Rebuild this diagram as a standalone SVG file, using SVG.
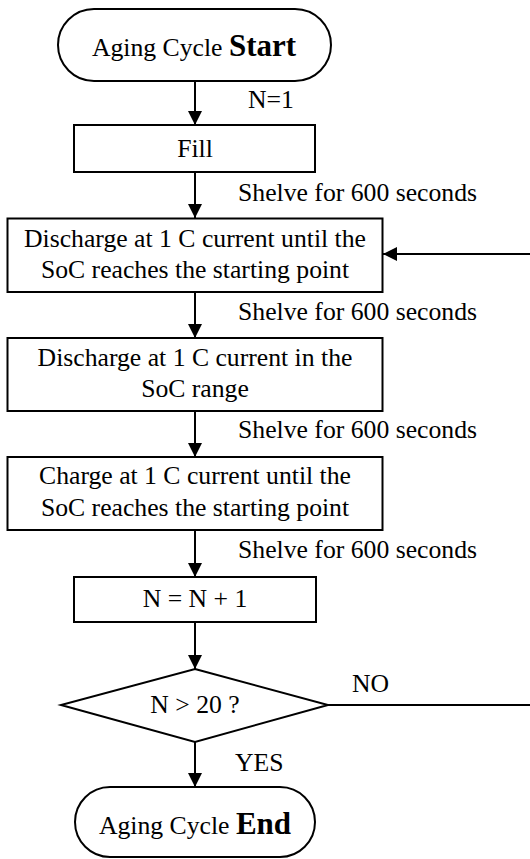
<svg xmlns="http://www.w3.org/2000/svg" width="530" height="859" viewBox="0 0 530 859">
<style>
.shape{fill:#fff;stroke:#000;stroke-width:2}
.t{font-family:"Liberation Serif","Times New Roman",serif;font-size:25.7px;fill:#000}
.c{text-anchor:middle}
.b{font-weight:bold;font-size:31px}
.ln{stroke:#000;stroke-width:2;fill:none}
</style>
<defs>
<marker id="ah" viewBox="0 0 14 14" refX="14" refY="7" markerWidth="14" markerHeight="14" markerUnits="userSpaceOnUse" orient="auto">
<path d="M0,0 L14,7 L0,14 Z" fill="#000"/>
</marker>
</defs>
<rect width="530" height="859" fill="#fff"/>
<g id="connectors">
<line class="ln" x1="195" y1="81" x2="195" y2="125" marker-end="url(#ah)"/>
<line class="ln" x1="195" y1="172" x2="195" y2="218" marker-end="url(#ah)"/>
<line class="ln" x1="195" y1="292" x2="195" y2="338" marker-end="url(#ah)"/>
<line class="ln" x1="195" y1="411" x2="195" y2="457" marker-end="url(#ah)"/>
<line class="ln" x1="195" y1="530" x2="195" y2="577" marker-end="url(#ah)"/>
<line class="ln" x1="195" y1="622" x2="195" y2="669" marker-end="url(#ah)"/>
<line class="ln" x1="195" y1="742" x2="195" y2="787" marker-end="url(#ah)"/>
<line class="ln" x1="328" y1="705" x2="530" y2="705"/>
<line class="ln" x1="530" y1="254" x2="383" y2="254" marker-end="url(#ah)"/>
<text class="t" x="248" y="108">N=1</text>
<text class="t" x="238" y="201">Shelve for 600 seconds</text>
<text class="t" x="238" y="320">Shelve for 600 seconds</text>
<text class="t" x="238" y="438">Shelve for 600 seconds</text>
<text class="t" x="238" y="558">Shelve for 600 seconds</text>
<text class="t" x="352" y="692">NO</text>
<text class="t" x="235" y="771">YES</text>
</g>
<g id="start">
<rect class="shape" x="58" y="9" width="273" height="72" rx="36"/>
<text class="t c" x="194" y="56">Aging Cycle <tspan class="b">Start</tspan></text>
</g>
<g id="fill">
<rect class="shape" x="74" y="125" width="241" height="47"/>
<text class="t c" x="195" y="157">Fill</text>
</g>
<g id="discharge1">
<rect class="shape" x="7.5" y="218.5" width="375" height="73.5"/>
<text class="t c" x="195" y="247">Discharge at 1 C current until the</text>
<text class="t c" x="195" y="278">SoC reaches the starting point</text>
</g>
<g id="discharge2">
<rect class="shape" x="7.5" y="338" width="375" height="73"/>
<text class="t c" x="195" y="366">Discharge at 1 C current in the</text>
<text class="t c" x="195" y="397">SoC range</text>
</g>
<g id="charge">
<rect class="shape" x="7.5" y="457" width="375" height="73"/>
<text class="t c" x="195" y="484">Charge at 1 C current until the</text>
<text class="t c" x="195" y="516">SoC reaches the starting point</text>
</g>
<g id="increment">
<rect class="shape" x="74" y="577" width="242" height="45"/>
<text class="t c" x="195" y="607">N = N + 1</text>
</g>
<g id="decision">
<polygon class="shape" points="195,669 328,705 195,742 61,705"/>
<text class="t c" x="195" y="713">N &gt; 20 ?</text>
</g>
<g id="end">
<rect class="shape" x="75" y="787" width="240" height="70" rx="35"/>
<text class="t c" x="195" y="834">Aging Cycle <tspan class="b">End</tspan></text>
</g>
</svg>
